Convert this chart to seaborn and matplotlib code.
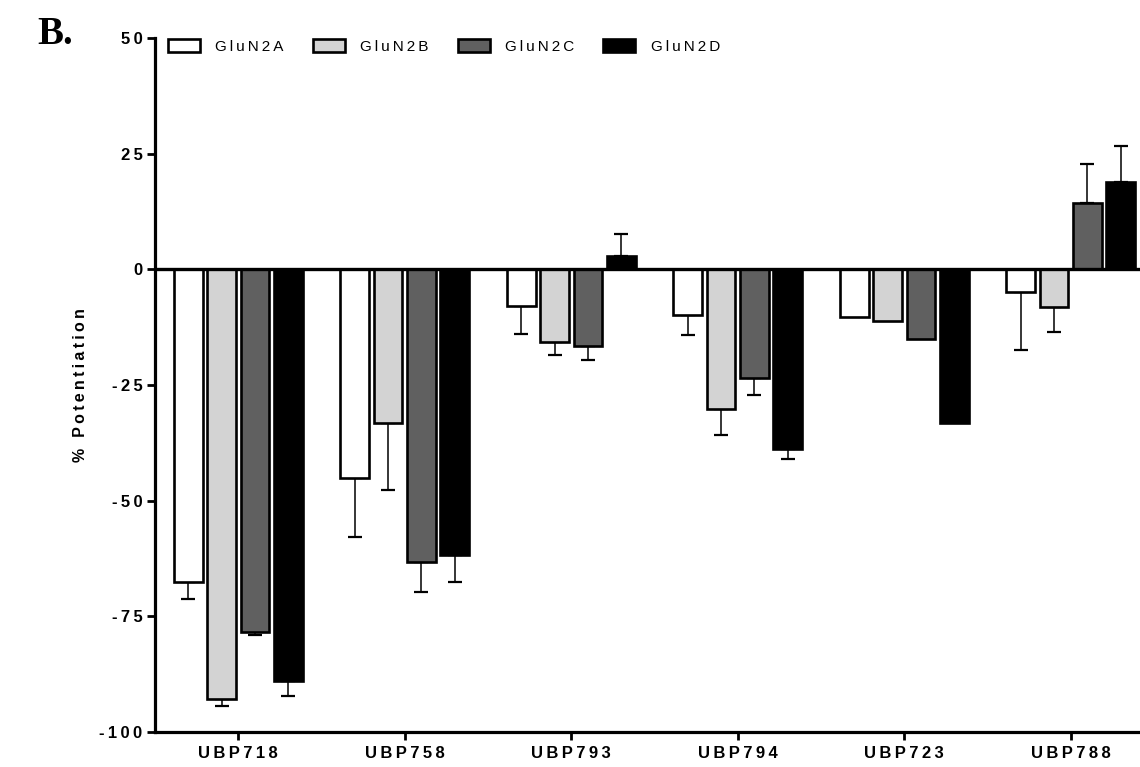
import numpy as np
import pandas as pd
import matplotlib
matplotlib.use("Agg")
import matplotlib.pyplot as plt
import seaborn as sns

# --- DATA ---
compounds = ["UBP718", "UBP758", "UBP793", "UBP794", "UBP723", "UBP788"]
subunits = ["GluN2A", "GluN2B", "GluN2C", "GluN2D"]

glun2a = [-67.5, -45.2, -8.0, -9.8, -10.4, -5.0]
glun2b = [-92.9, -33.3, -15.7, -30.2, -11.1, -8.1]
glun2c = [-78.4, -63.2, -16.5, -23.4, -15.1, 14.3]
glun2d = [-89.0, -61.7, 2.8, -38.9, -33.3, 18.9]

sem_2a = [3.8, 12.6, 5.9, 4.3, 0.0, 12.4]
sem_2b = [1.5, 14.3, 2.8, 5.6, 0.0, 5.5]
sem_2c = [0.7, 6.6, 3.1, 3.7, 0.0, 8.4]
sem_2d = [3.2, 5.9, 4.8, 2.0, 0.0, 7.7]

y_ticks = [50, 25, 0, -25, -50, -75, -100]
bar_colors = ["white", "#d3d3d3", "#606060", "black"]

means = [glun2a, glun2b, glun2c, glun2d]
sems = [sem_2a, sem_2b, sem_2c, sem_2d]


def spaced(s):
    # the original figure uses wide letter spacing
    return "\u2009".join(s)


df = pd.DataFrame({
    "compound": np.tile(compounds, len(subunits)),
    "subunit": np.repeat(subunits, len(compounds)),
    "value": np.concatenate(means),
})

# --- STYLE ---
sns.set_style("ticks", {"axes.edgecolor": "black", "text.color": "black",
                        "xtick.color": "black", "ytick.color": "black",
                        "axes.labelcolor": "black"})
plt.rcParams["font.family"] = ["Liberation Sans", "DejaVu Sans"]

fig = plt.figure(figsize=(11.4, 7.67), dpi=100)
ax = fig.add_axes([155 / 1140, 35 / 767, 999 / 1140, 694 / 767])

sns.barplot(data=df, x="compound", y="value", hue="subunit",
            order=compounds, hue_order=subunits, palette=bar_colors,
            errorbar=None, width=0.8, gap=0.14,
            edgecolor="black", linewidth=1.9, ax=ax, zorder=3)

# one-sided error bars (SEM), pointing away from zero
for cont, vals, errs in zip(ax.containers, means, sems):
    for bar, v, e in zip(cont, vals, errs):
        if e <= 0:
            continue
        x = bar.get_x() + bar.get_width() / 2
        yerr = [[0], [e]] if v > 0 else [[e], [0]]
        ax.errorbar(x, v, yerr=yerr, fmt="none", ecolor="black",
                    elinewidth=1.1, capsize=4.8, capthick=1.6, zorder=2)

ax.axhline(0, color="black", lw=2.4, zorder=4)

ax.set_ylim(-100, 50)
ax.set_xlim(-0.5, 5.5)
ax.set_yticks(y_ticks)
ax.set_yticklabels([spaced(str(t)) for t in y_ticks])
ax.set_xticks(range(len(compounds)))
ax.set_xticklabels([spaced(c) for c in compounds])
ax.set_xlabel("")
ax.set_ylabel(spaced("% Potentiation"), fontsize=11.5, fontweight="bold",
              labelpad=8)

for lab in ax.get_xticklabels() + ax.get_yticklabels():
    lab.set_fontweight("bold")
ax.tick_params(axis="y", labelsize=12, width=2, length=6, pad=3)
ax.tick_params(axis="x", labelsize=12, width=2, length=6, pad=4)

sns.despine(ax=ax)
for s in ["left", "bottom"]:
    ax.spines[s].set_linewidth(2.3)

handles, _ = ax.get_legend_handles_labels()
ax.legend(handles, [spaced(s) for s in subunits], ncol=4, loc="upper left",
          bbox_to_anchor=(0.01, 1.003), frameon=False, fontsize=11,
          handlelength=2.1, handleheight=0.9, handletextpad=1.0,
          columnspacing=1.9, borderaxespad=0, borderpad=0.2)

fig.text(37 / 1140, 1 - 44 / 767, "B.", fontsize=28, fontweight="bold",
         family="Liberation Serif", ha="left", va="baseline")

fig.savefig("out.png", dpi=100)
